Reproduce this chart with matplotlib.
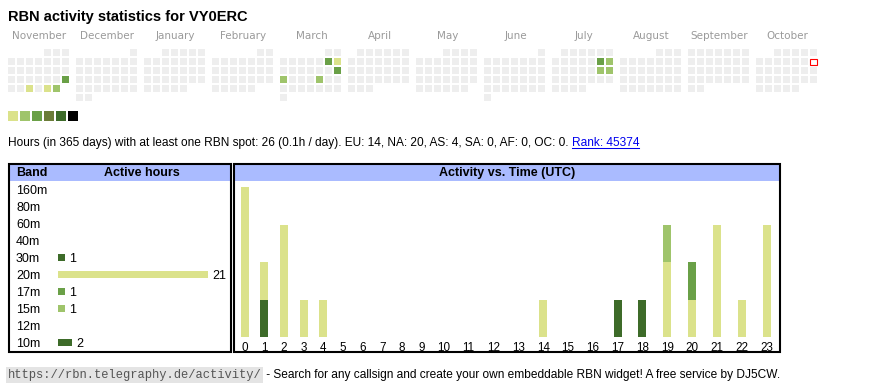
import datetime as dt
import numpy as np
import matplotlib
matplotlib.use("Agg")
import matplotlib.pyplot as plt
from matplotlib.patches import Rectangle

plt.rcParams['font.family'] = ['Liberation Sans', 'DejaVu Sans']

W, H = 870, 390

# ---- data ----
title = "RBN activity statistics for VY0ERC"
months = ["November", "December", "January", "February", "March", "April",
          "May", "June", "July", "August", "September", "October"]
start_year, start_month = 2024, 11
today = dt.date(2025, 10, 12)
# day -> activity level (1..6)
active_days = {
    "2024-11-24": 3, "2024-11-27": 1, "2024-11-29": 1, "2024-11-30": 2,
    "2025-03-08": 3, "2025-03-09": 1, "2025-03-16": 3, "2025-03-17": 2,
    "2025-03-21": 2,
    "2025-07-12": 3, "2025-07-13": 2, "2025-07-19": 2, "2025-07-20": 2,
}
level_colors = ['#dbe28b', '#9fc46b', '#6aa047', '#6b7c38', '#3d6b29', '#000000']
empty_color = '#eeeeee'

stats_text = ("Hours (in 365 days) with at least one RBN spot: 26 (0.1h / day). "
              "EU: 14, NA: 20, AS: 4, SA: 0, AF: 0, OC: 0. ")
rank_text = "Rank: 45374"

bands = ["160m", "80m", "60m", "40m", "30m", "20m", "17m", "15m", "12m", "10m"]
band_hours = [0, 0, 0, 0, 1, 21, 1, 1, 0, 2]
band_colors = {"30m": '#3d6b29', "20m": '#dbe28b', "17m": '#6aa047',
               "15m": '#9fc46b', "10m": '#3d6b29'}

hours = list(range(24))
hourly = {
    "30m": [0, 1, 0, 0, 0, 0, 0, 0, 0, 0, 0, 0, 0, 0, 0, 0, 0, 0, 0, 0, 0, 0, 0, 0],
    "20m": [4, 1, 3, 1, 1, 0, 0, 0, 0, 0, 0, 0, 0, 0, 1, 0, 0, 0, 0, 2, 1, 3, 1, 3],
    "17m": [0, 0, 0, 0, 0, 0, 0, 0, 0, 0, 0, 0, 0, 0, 0, 0, 0, 0, 0, 0, 1, 0, 0, 0],
    "15m": [0, 0, 0, 0, 0, 0, 0, 0, 0, 0, 0, 0, 0, 0, 0, 0, 0, 0, 0, 1, 0, 0, 0, 0],
    "10m": [0, 0, 0, 0, 0, 0, 0, 0, 0, 0, 0, 0, 0, 0, 0, 0, 0, 1, 1, 0, 0, 0, 0, 0],
}

url_text = "https://rbn.telegraphy.de/activity/"
footer_text = " - Search for any callsign and create your own embeddable RBN widget! A free service by DJ5CW."

# ---- figure ----
fig = plt.figure(figsize=(W / 100, H / 100), dpi=100)
ax = fig.add_axes([0, 0, 1, 1])
ax.set_xlim(0, W)
ax.set_ylim(H, 0)
ax.axis('off')
renderer = fig.canvas.get_renderer()


def px_axes(x0, y0, x1, y1):
    return fig.add_axes([x0 / W, 1 - y1 / H, (x1 - x0) / W, (y1 - y0) / H])


ax.text(8, 20.5, title, fontsize=10.5, fontweight='bold', va='baseline')

# calendar
for i, name in enumerate(months):
    y_, m_ = start_year + (start_month - 1 + i) // 12, (start_month - 1 + i) % 12 + 1
    bx = 8 + 68 * i
    ax.text(bx + 31.5, 39, name, fontsize=7.5, color='#9a9a9a',
            family='DejaVu Sans', ha='center', va='baseline')
    first = dt.date(y_, m_, 1)
    d = first
    while d.month == m_:
        row = (d.day - 1 + first.weekday()) // 7
        x = bx + 9 * d.weekday()
        y = 49 + 9 * row
        lvl = active_days.get(d.isoformat())
        if d == today:
            ax.add_patch(Rectangle((x + 0.5, y + 0.5), 6.5, 6.5, facecolor='white',
                                   edgecolor='#ff0000', lw=0.8))
        else:
            fc = level_colors[lvl - 1] if lvl else empty_color
            ax.add_patch(Rectangle((x, y), 7, 7, facecolor=fc, edgecolor='none'))
        d += dt.timedelta(days=1)

for k, c in enumerate(level_colors):
    ax.add_patch(Rectangle((8 + 12 * k, 111), 10, 10, facecolor=c, edgecolor='none'))

# stats line
t1 = ax.text(8, 146, stats_text, fontsize=8.6, va='baseline')
bb = t1.get_window_extent(renderer)
t2 = ax.text(bb.x1, 146, rank_text, fontsize=8.6, va='baseline', color='#0000ee')
bb2 = t2.get_window_extent(renderer)
ax.plot([bb2.x0, bb2.x1], [147.5, 147.5], color='#0000ee', lw=0.75)

# boxes
for (x0, x1) in [(9, 231), (234, 780)]:
    ax.add_patch(Rectangle((x0 + 1, 165), x1 - x0 - 2, 16, facecolor='#aabbff',
                           edgecolor='none'))
    ax.add_patch(Rectangle((x0, 164), x1 - x0, 188, facecolor='none',
                           edgecolor='black', lw=1.5))
ax.text(16, 173, "Band", fontsize=9, fontweight='bold', va='center')
ax.text(141.5, 173, "Active hours", fontsize=9, fontweight='bold', va='center', ha='center')
ax.text(507, 173, "Activity vs. Time (UTC)", fontsize=9, fontweight='bold',
        va='center', ha='center')

# band table
bax = px_axes(10, 181, 230, 351)
scale = 150 / max(band_hours)
bax.set_xlim(-(58 - 10) / scale, (230 - 58) / scale)
bax.set_ylim(len(bands) - 0.5, -0.5)
bax.axis('off')
ypos = np.arange(len(bands))
bax.barh(ypos, band_hours, height=7 / 17,
         color=[band_colors.get(b, 'white') for b in bands])
for yy, b, v in zip(ypos, bands, band_hours):
    bax.text((16 - 58) / scale, yy, b, fontsize=9, va='center_baseline', ha='left')
    if v:
        bax.text(v + 4 / scale, yy, str(v), fontsize=9, va='center_baseline', ha='left')

# activity vs time
widths = np.array([14.49 + 5.18 * len(str(h)) for h in hours])
centers = np.cumsum(widths) - widths / 2
tax = px_axes(235, 187, 779, 337)
tax.set_xlim(0, widths.sum())
tax.set_ylim(0, max(np.sum([hourly[b] for b in hourly], axis=0)))
bottom = np.zeros(len(hours))
for b in bands:
    if b in hourly:
        vals = np.array(hourly[b])
        tax.bar(centers, vals, bottom=bottom, width=8, color=band_colors[b])
        bottom += vals
for s in tax.spines.values():
    s.set_visible(False)
tax.set_yticks([])
tax.set_xticks(centers)
tax.set_xticklabels([str(h) for h in hours], fontsize=8.4)
tax.tick_params(axis='x', length=0, pad=3.5)
tax.patch.set_alpha(0)

# footer
t3 = ax.text(8, 378, url_text, fontsize=8.7, family='Liberation Mono', color='#555555',
             va='baseline',
             bbox=dict(facecolor='#e4e4e4', edgecolor='none', pad=1.2))
bb3 = t3.get_window_extent(renderer)
ax.text(bb3.x1 + 1, 378, footer_text, fontsize=8.6, va='baseline')

fig.savefig('out.png', dpi=100)
